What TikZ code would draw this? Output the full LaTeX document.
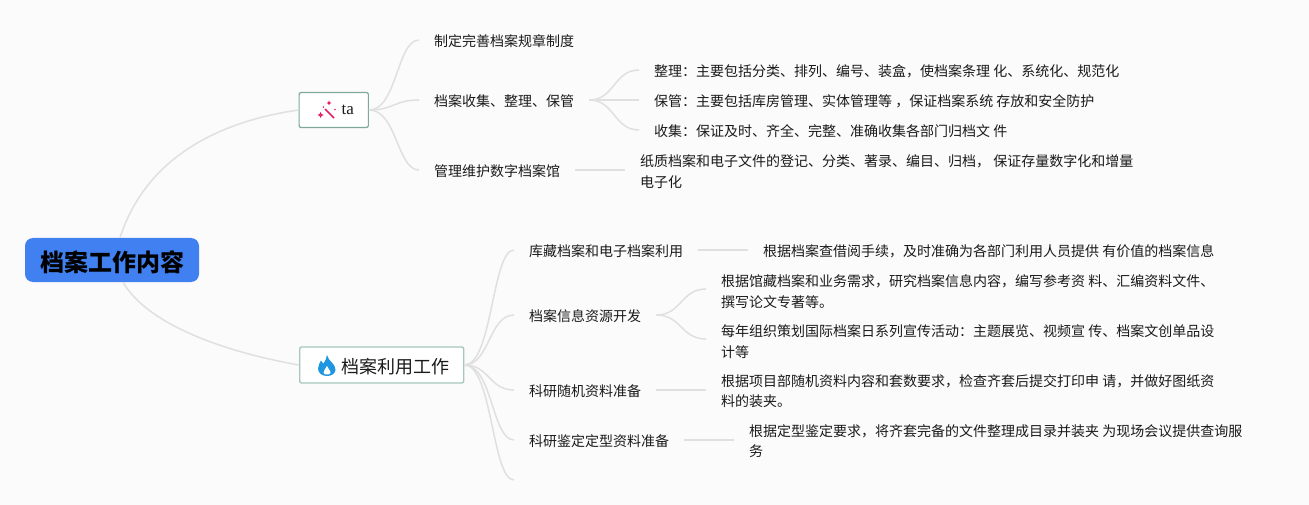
\documentclass[tikz,border=0pt]{standalone}
\usepackage{fontspec}
\newfontfamily\cjk{Noto Sans CJK SC}
\newfontfamily\serif{Liberation Serif}
\newcommand{\zcomma}{\symbol{"FF0C}}
\newcommand{\zcolon}{\symbol{"FF1A}}
\definecolor{pagebg}{RGB}{251, 251, 251}
\definecolor{linkgray}{RGB}{224, 224, 224}
\definecolor{rootblue}{RGB}{64, 128, 240}
\definecolor{tealedge}{RGB}{165, 200, 188}
\definecolor{tealdark}{RGB}{125, 168, 155}
\definecolor{wandred}{RGB}{232, 30, 99}
\definecolor{flameblue}{RGB}{33, 150, 224}
\definecolor{inkgray}{RGB}{26, 26, 26}
\usetikzlibrary{calc}
\tikzset{
    link/.style={draw=linkgray, line width=1.5pt},
    rootbox/.style={fill=rootblue, rounded corners=8pt, minimum width=174pt, minimum height=44pt, inner sep=0pt, text=black, font=\cjk\bfseries\fontsize{24}{28}\selectfont, execute at begin node={\rule{0pt}{25pt}}},
    branchbox/.style={draw=tealedge, fill=white, line width=1.4pt, rounded corners=2pt, anchor=west, inner xsep=14.5pt, inner ysep=0pt, text=inkgray},
    leaf/.style={anchor=west, inner xsep=15pt, inner ysep=2pt, text=inkgray, font=\cjk\fontsize{14}{20.5}\selectfont, execute at begin node={\rule{0pt}{14.5pt}}},
    longleaf/.style={anchor=west, align=left, inner xsep=15pt, inner ysep=2pt, text=inkgray, font=\cjk\fontsize{14}{20.5}\selectfont},
}

\begin{document}
\begin{tikzpicture}[x=1pt,y=-1pt]
    \useasboundingbox (0,0) rectangle (1309,505);
    \fill[pagebg] (0,0) rectangle (1309,505);

    \node[rootbox] (root) at (112,260) {档案工作内容};
    \node[branchbox, draw=tealdark, line width=1.2pt, minimum height=35pt, font=\serif\fontsize{17}{20}\selectfont] (ta) at (298.5,110) {\hspace*{28pt}ta};
    \node[branchbox, minimum height=36pt, font=\cjk\fontsize{18}{22}\selectfont] (usage) at (299,365) {\rule{0pt}{19pt}\hspace*{27pt}档案利用工作};

    \draw[link] ([xshift=8pt]root.north) .. controls (145,160) and (215,122) .. (ta.west);
    \draw[link] ([xshift=11pt]root.south) .. controls (148,325) and (225,352) .. (usage.west);

    % wand icon
    \draw[wandred, line width=1.5pt] (325,109) -- (334,118);
    \fill[wandred] (329,100.5) -- (329.8,102.2) -- (331.5,103) -- (329.8,103.8) -- (329,105.5) -- (328.2,103.8) -- (326.5,103) -- (328.2,102.2) -- cycle;
    \fill[wandred] (320.5,112) -- (321.5,114) -- (323.5,115) -- (321.5,116) -- (320.5,118) -- (319.5,116) -- (317.5,115) -- (319.5,114) -- cycle;
    \fill[wandred] (335,109.5) circle (0.8pt);
    \fill[wandred] (323.5,107) circle (0.8pt);

    % flame icon
    \fill[flameblue] (327,355) .. controls (328,361) and (336,364) .. (335.5,370) .. controls (335,374) and (331,376) .. (327,376) .. controls (322,376) and (318,373) .. (318,368.5) .. controls (318,365) and (320,363) .. (321,360.5) .. controls (322,362) and (322.5,363) .. (323.5,363.5) .. controls (325,361) and (327,358) .. (327,355) -- cycle;
    \fill[white] (327,366) .. controls (327.5,369) and (331,370.5) .. (330.5,373) .. controls (330,375) and (324,375) .. (323.5,373) .. controls (323,370.5) and (326,369) .. (327,366) -- cycle;

    \node[leaf] (rules) at (419,40) {制定完善档案规章制度};
    \node[leaf] (collect) at (419,100) {档案收集、整理、保管};
    \node[leaf] (digital) at (419,170) {管理维护数字档案馆};

    \draw[link] (ta.east) .. controls +(28,0) and +(-22,0) .. (rules.west);
    \draw[link] (ta.east) .. controls +(25,0) and +(-25,0) .. (collect.west);
    \draw[link] (ta.east) .. controls +(28,0) and +(-22,0) .. (digital.west);

    \node[leaf] (sort) at (639,70) {整理\zcolon 主要包括分类、排列、编号、装盒\zcomma 使档案条理 化、系统化、规范化};
    \node[leaf] (store) at (639,100) {保管\zcolon 主要包括库房管理、实体管理等 \zcomma 保证档案系统 存放和安全防护};
    \node[leaf] (gather) at (639,130) {收集\zcolon 保证及时、齐全、完整、准确收集各部门归档文 件};
    \node[longleaf] (paper) at (625,171.5) {纸质档案和电子文件的登记、分类、著录、编目、归档\zcomma{} 保证存量数字化和增量\\电子化};

    \draw[link] (collect.east) .. controls +(25,0) and +(-25,0) .. (sort.west);
    \draw[link] (collect.east) -- (store.west);
    \draw[link] (collect.east) .. controls +(25,0) and +(-25,0) .. (gather.west);
    \draw[link] (digital.east) -- (digital.east -| paper.west);

    \node[leaf] (stock) at (514,250) {库藏档案和电子档案利用};
    \node[leaf] (devel) at (514,315) {档案信息资源开发};
    \node[leaf] (random) at (514,390) {科研随机资料准备};
    \node[leaf] (appraise) at (514,440) {科研鉴定定型资料准备};
    \coordinate (blank) at (514,480);

    \draw[link] (usage.east) .. controls +(28,0) and +(-22,0) .. (stock.west);
    \draw[link] (usage.east) .. controls +(25,0) and +(-25,0) .. (devel.west);
    \draw[link] (usage.east) .. controls +(25,0) and +(-25,0) .. (random.west);
    \draw[link] (usage.east) .. controls +(28,0) and +(-22,0) .. (appraise.west);
    \draw[link] (usage.east) .. controls +(28,0) and +(-22,0) .. (blank);

    \node[leaf] (lend) at (748,250) {根据档案查借阅手续\zcomma 及时准确为各部门利用人员提供 有价值的档案信息};
    \node[longleaf] (research) at (706,291.5) {根据馆藏档案和业务需求\zcomma 研究档案信息内容\zcomma 编写参考资 料、汇编资料文件、\\撰写论文专著等。};
    \node[longleaf] (promo) at (706,341.5) {每年组织策划国际档案日系列宣传活动\zcolon 主题展览、视频宣 传、档案文创单品设\\计等};
    \node[longleaf] (print) at (706,391) {根据项目部随机资料内容和套数要求\zcomma 检查齐套后提交打印申 请\zcomma 并做好图纸资\\料的装夹。};
    \node[longleaf] (meeting) at (734,441) {根据定型鉴定要求\zcomma 将齐套完备的文件整理成目录并装夹 为现场会议提供查询服\\务};

    \draw[link] (stock.east) -- (lend.west);
    \draw[link] (devel.east) .. controls +(25,0) and +(-25,0) .. ([yshift=2.5pt]research.west);
    \draw[link] (devel.east) .. controls +(25,0) and +(-25,0) .. ([yshift=2.5pt]promo.west);
    \draw[link] (random.east) -- (random.east -| print.west);
    \draw[link] (appraise.east) -- (appraise.east -| meeting.west);
\end{tikzpicture}
\end{document}
